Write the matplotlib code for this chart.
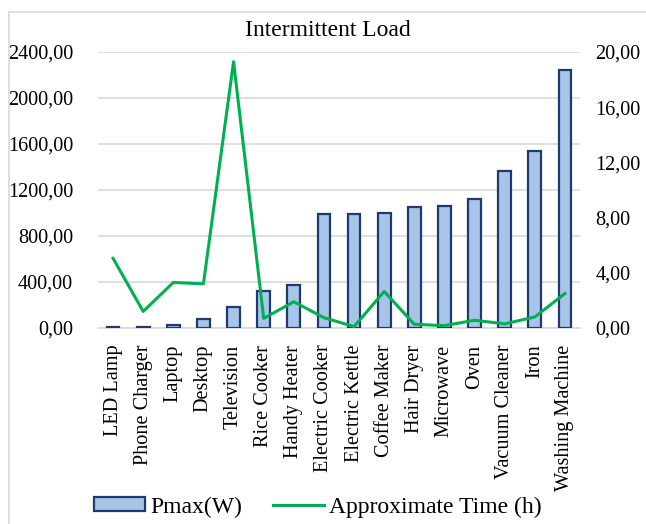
import matplotlib
matplotlib.use("Agg")
import matplotlib.pyplot as plt
from matplotlib.patches import Rectangle
from matplotlib.ticker import FuncFormatter, MultipleLocator
import numpy as np

categories = ["LED Lamp", "Phone Charger", "Laptop", "Desktop", "Television",
              "Rice Cooker", "Handy Heater", "Electric Cooker", "Electric Kettle",
              "Coffee Maker", "Hair Dryer", "Microwave", "Oven", "Vacuum Cleaner",
              "Iron", "Washing Machine"]
pmax_w = [8, 10, 25, 75, 180, 320, 372, 990, 990, 1003, 1055, 1060, 1122, 1368, 1535, 2240]
time_h = [5.05, 1.2, 3.3, 3.2, 19.3, 0.7, 1.9, 0.75, 0.1, 2.65, 0.27, 0.17, 0.56, 0.3, 0.8, 2.5]

plt.rcParams['font.family'] = ['Liberation Serif', 'DejaVu Serif']
FS = 14.6
FS_BIG = 17

fig = plt.figure(figsize=(6.46, 5.24), dpi=100)
W, H = 646, 524
ax = fig.add_axes([98 / W, (H - 328) / H, (580 - 98) / W, (328 - 52) / H])

x = np.arange(len(categories))
ax.bar(x, pmax_w, width=0.42, color='#a7c4e9', edgecolor='#1f3a6e', linewidth=1.6,
       zorder=3, label='Pmax(W)')
ax.set_xlim(-0.5, len(categories) - 0.5)
ax.set_ylim(0, 2400)
ax.yaxis.set_major_locator(MultipleLocator(400))
fmt = FuncFormatter(lambda v, p: f"{v:.2f}".replace('.', ','))
ax.yaxis.set_major_formatter(fmt)
ax.grid(axis='y', color='#d9d9d9', linewidth=1.2, zorder=0)
ax.set_axisbelow(True)
for s in ['top', 'left', 'right']:
    ax.spines[s].set_visible(False)
ax.spines['bottom'].set_color('#d9d9d9')
ax.spines['bottom'].set_linewidth(1.2)
ax.set_xticks(x)
ax.set_xticklabels(categories, rotation=90, fontsize=FS)
ax.tick_params(axis='x', length=0, pad=12)
ax.tick_params(axis='y', length=0, pad=18, labelsize=FS)

ax2 = ax.twinx()
ax2.plot(x, time_h, color='#00b050', linewidth=2.2, zorder=4, label='Approximate Time (h)')
ax2.set_ylim(0, 20)
ax2.yaxis.set_major_locator(MultipleLocator(4))
ax2.yaxis.set_major_formatter(fmt)
for s in ['top', 'left', 'right', 'bottom']:
    ax2.spines[s].set_visible(False)
ax2.tick_params(axis='y', length=0, pad=11, labelsize=FS)

fig.text(328 / W, (H - 30) / H, "Intermittent Load", ha='center', va='center', fontsize=FS_BIG)

h1, l1 = ax.get_legend_handles_labels()
h2, l2 = ax2.get_legend_handles_labels()
fig.legend(h1 + h2, l1 + l2, loc='center', bbox_to_anchor=(318 / W, (H - 507) / H),
           ncol=2, frameon=False, fontsize=FS_BIG, handlelength=2.15, handleheight=0.5,
           handletextpad=0.22, columnspacing=1.3, borderpad=0)

fig.patches.append(Rectangle((9 / W, -0.05), 1.2, (H - 12) / H + 0.05, transform=fig.transFigure,
                             fill=False, edgecolor='#d9d9d9', linewidth=1.2))

fig.savefig("out.png", dpi=100)
